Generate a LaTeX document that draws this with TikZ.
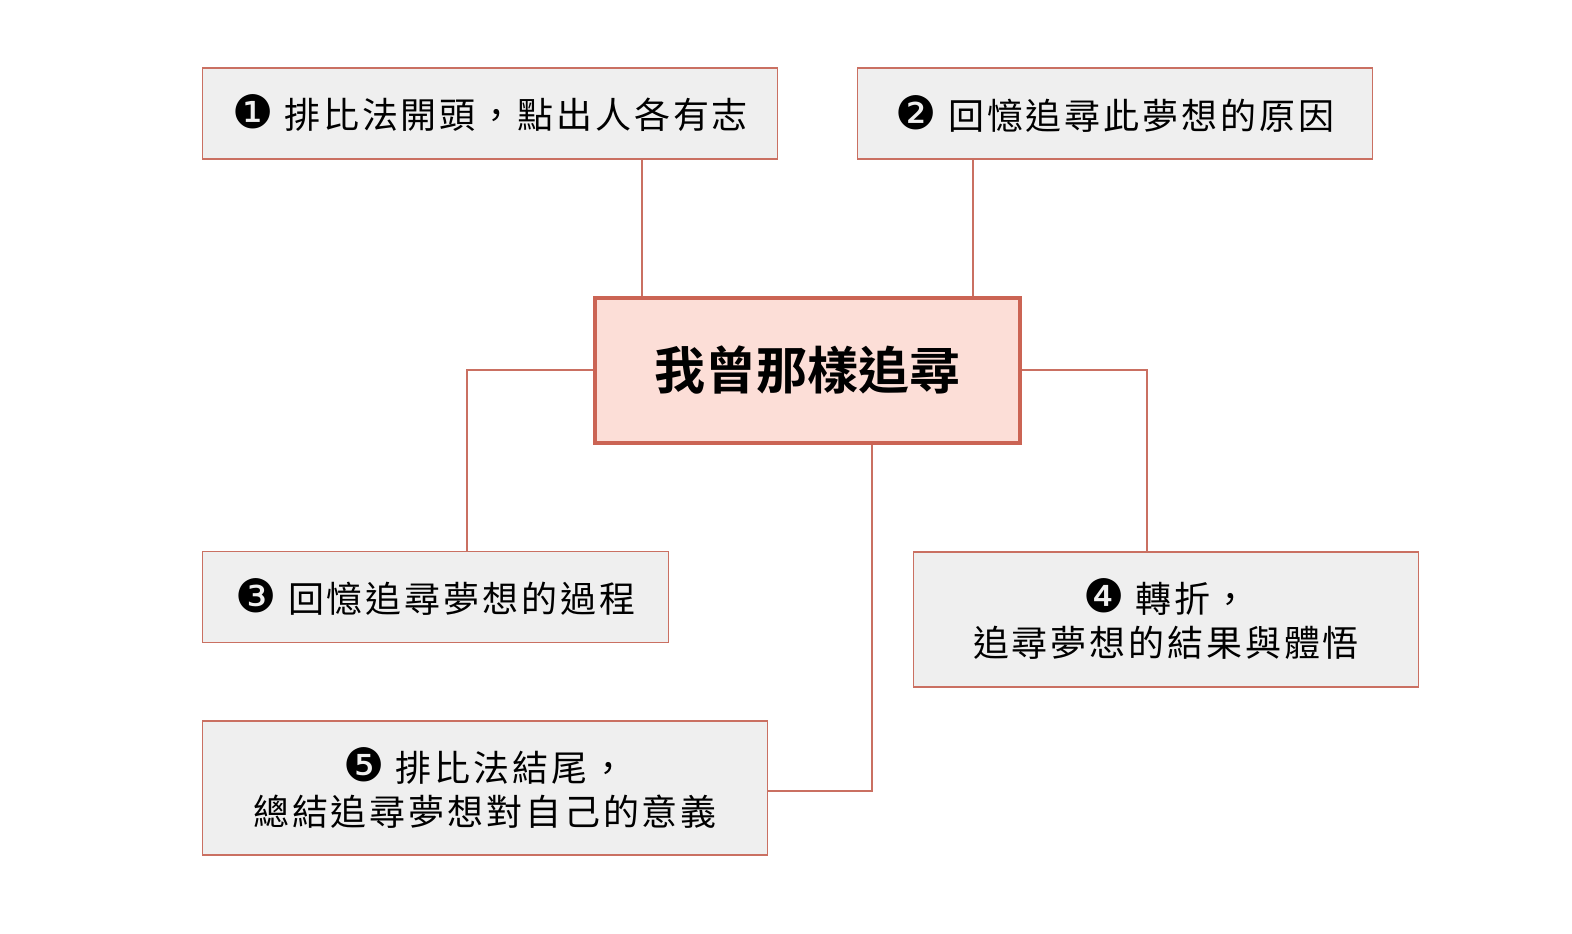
\documentclass[tikz,border=0pt]{standalone}
\usepackage{fontspec}
\setmainfont{Noto Sans CJK TC}[LetterSpace=8]
\newfontfamily\cjkb{Noto Sans CJK TC Bold}
\newfontfamily\dingf{DejaVu Sans}
\definecolor{edgec}{RGB}{202,112,98}
\definecolor{boxfill}{RGB}{239,239,239}
\definecolor{cfill}{RGB}{252,222,215}
\definecolor{cedge}{RGB}{203,100,84}
\newcommand{\num}[1]{{\dingf\fontsize{46bp}{44bp}\selectfont #1}}
\tikzset{
  box/.style={draw=edgec, line width=1.8bp, fill=boxfill, inner sep=0pt, align=center,
    font=\fontsize{36bp}{44bp}\selectfont, text=black},
  cbox/.style={draw=cedge, line width=4bp, fill=cfill, inner sep=0pt,
    font=\cjkb\fontsize{51bp}{54bp}\selectfont, text=black},
  link/.style={draw=edgec, line width=1.8bp}
}
\begin{document}
\begin{tikzpicture}[x=1bp,y=-1bp]
\useasboundingbox (0,0) rectangle (1572,933);
\node[cbox, minimum width=425bp, minimum height=145bp] (c) at (807.5,370.5) {我曾那樣追尋};
\node[box, minimum width=575bp, minimum height=91bp] (b1) at (490,113.5) {\num{❶} 排比法開頭，點出人各有志};
\node[box, minimum width=515bp, minimum height=91bp] (b2) at (1115,113.5) {\num{❷} 回憶追尋此夢想的原因};
\node[box, minimum width=466bp, minimum height=91bp] (b3) at (435.5,597) {\num{❸} 回憶追尋夢想的過程};
\node[box, minimum width=505bp, minimum height=135bp] (b4) at (1166,619.5) {\num{❹} 轉折，\\追尋夢想的結果與體悟};
\node[box, minimum width=565bp, minimum height=134bp] (b5) at (485,788) {\num{❺} 排比法結尾，\\總結追尋夢想對自己的意義};
\coordinate (p1) at (642,0);
\coordinate (p2) at (973,0);
\draw[link] (b1.south -| p1) -- (c.north -| p1);
\draw[link] (b2.south -| p2) -- (c.north -| p2);
\coordinate (l3) at (467,370);
\draw[link] (c.west |- l3) -- (l3) -- (b3.north -| l3);
\coordinate (l4) at (1147,370);
\draw[link] (c.east |- l4) -- (l4) -- (b4.north -| l4);
\coordinate (l5) at (872,791);
\draw[link] (c.south -| l5) -- (l5) -- (b5.east |- l5);
\end{tikzpicture}
\end{document}
